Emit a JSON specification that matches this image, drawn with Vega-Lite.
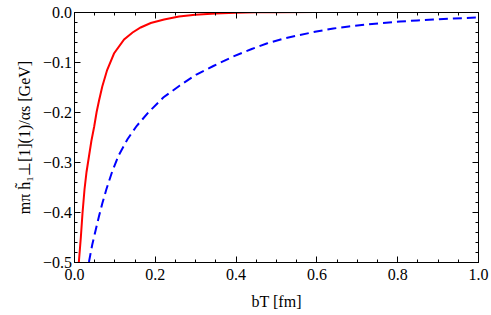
{
  "$schema": "https://vega.github.io/schema/vega-lite/v6.json",
  "autosize": "none",
  "width": 404,
  "height": 250,
  "padding": {"left": 74, "top": 12, "right": 13, "bottom": 53},
  "config": {
    "view": {"stroke": "black", "strokeWidth": 1},
    "font": "Liberation Serif"
  },
  "data": {"values": [
    {"b": 0.012, "v": -0.5, "s": "red"},
    {"b": 0.017, "v": -0.45, "s": "red"},
    {"b": 0.021, "v": -0.403, "s": "red"},
    {"b": 0.026, "v": -0.355, "s": "red"},
    {"b": 0.031, "v": -0.32, "s": "red"},
    {"b": 0.037, "v": -0.289, "s": "red"},
    {"b": 0.043, "v": -0.258, "s": "red"},
    {"b": 0.05, "v": -0.229, "s": "red"},
    {"b": 0.056, "v": -0.2, "s": "red"},
    {"b": 0.062, "v": -0.177, "s": "red"},
    {"b": 0.07, "v": -0.149, "s": "red"},
    {"b": 0.082, "v": -0.116, "s": "red"},
    {"b": 0.099, "v": -0.083, "s": "red"},
    {"b": 0.124, "v": -0.055, "s": "red"},
    {"b": 0.145, "v": -0.041, "s": "red"},
    {"b": 0.165, "v": -0.031, "s": "red"},
    {"b": 0.19, "v": -0.022, "s": "red"},
    {"b": 0.223, "v": -0.015, "s": "red"},
    {"b": 0.26, "v": -0.009, "s": "red"},
    {"b": 0.3, "v": -0.0055, "s": "red"},
    {"b": 0.35, "v": -0.003, "s": "red"},
    {"b": 0.4, "v": -0.0015, "s": "red"},
    {"b": 0.45, "v": -0.0007, "s": "red"},
    {"b": 0.5, "v": -0.0003, "s": "red"},
    {"b": 0.6, "v": -0.0001, "s": "red"},
    {"b": 0.7, "v": 0, "s": "red"},
    {"b": 0.8, "v": 0, "s": "red"},
    {"b": 0.9, "v": 0, "s": "red"},
    {"b": 1.0, "v": 0, "s": "red"},
    {"b": 0.037, "v": -0.5, "s": "blue"},
    {"b": 0.045, "v": -0.466, "s": "blue"},
    {"b": 0.054, "v": -0.435, "s": "blue"},
    {"b": 0.062, "v": -0.408, "s": "blue"},
    {"b": 0.07, "v": -0.383, "s": "blue"},
    {"b": 0.08, "v": -0.355, "s": "blue"},
    {"b": 0.095, "v": -0.318, "s": "blue"},
    {"b": 0.111, "v": -0.286, "s": "blue"},
    {"b": 0.132, "v": -0.255, "s": "blue"},
    {"b": 0.155, "v": -0.228, "s": "blue"},
    {"b": 0.184, "v": -0.201, "s": "blue"},
    {"b": 0.221, "v": -0.171, "s": "blue"},
    {"b": 0.262, "v": -0.147, "s": "blue"},
    {"b": 0.303, "v": -0.125, "s": "blue"},
    {"b": 0.345, "v": -0.108, "s": "blue"},
    {"b": 0.394, "v": -0.089, "s": "blue"},
    {"b": 0.44, "v": -0.074, "s": "blue"},
    {"b": 0.477, "v": -0.063, "s": "blue"},
    {"b": 0.52, "v": -0.053, "s": "blue"},
    {"b": 0.559, "v": -0.046, "s": "blue"},
    {"b": 0.6, "v": -0.039, "s": "blue"},
    {"b": 0.642, "v": -0.033, "s": "blue"},
    {"b": 0.68, "v": -0.029, "s": "blue"},
    {"b": 0.724, "v": -0.025, "s": "blue"},
    {"b": 0.765, "v": -0.022, "s": "blue"},
    {"b": 0.807, "v": -0.019, "s": "blue"},
    {"b": 0.85, "v": -0.017, "s": "blue"},
    {"b": 0.889, "v": -0.015, "s": "blue"},
    {"b": 0.94, "v": -0.013, "s": "blue"},
    {"b": 1.0, "v": -0.011, "s": "blue"}
  ]},
  "layer": [
    {
      "transform": [{"filter": "datum.s == 'red'"}],
      "mark": {"type": "line", "color": "#ff0000", "strokeWidth": 2, "clip": true},
      "encoding": {
        "x": {"field": "b", "type": "quantitative", "scale": {"domain": [0, 1], "nice": false, "zero": false},
          "axis": {"orient": "bottom", "title": "bT [fm]", "titlePadding": 8, "titleFont": "Liberation Serif", "titleFontSize": 16, "titleFontWeight": "normal", "titleColor": "black",
            "labelFont": "Liberation Serif", "labelFontSize": 16, "labelColor": "black", "labelFlush": false, "labelOverlap": false,
            "domainColor": "black", "domainWidth": 1, "gridOpacity": 0, "zindex": 1, "tickColor": "black", "tickWidth": 1,
            "values": [0,0.05,0.1,0.15,0.2,0.25,0.3,0.35,0.4,0.45,0.5,0.55,0.6,0.65,0.7,0.75,0.8,0.85,0.9,0.95,1.0],
            "format": ".1f",
            "labelExpr": "abs(datum.value*5 - round(datum.value*5)) < 0.001 ? datum.label : ''",
            "tickSize": {"condition": {"test": "abs(datum.value*5 - round(datum.value*5)) < 0.001", "value": -6}, "value": -3},
            "labelPadding": 10}},
        "y": {"field": "v", "type": "quantitative", "scale": {"domain": [-0.5, 0], "nice": false, "zero": false},
          "axis": {"orient": "left", "title": "mπ h̃₁⊥[1](1)/αs [GeV]", "titlePadding": 10, "titleFont": "Liberation Serif", "titleFontSize": 16, "titleFontWeight": "normal", "titleColor": "black",
            "labelFont": "Liberation Serif", "labelFontSize": 16, "labelColor": "black", "labelFlush": false, "labelOverlap": false,
            "domainColor": "black", "domainWidth": 1, "gridOpacity": 0, "zindex": 1, "tickColor": "black", "tickWidth": 1,
            "values": [-0.5,-0.48,-0.46,-0.44,-0.42,-0.4,-0.38,-0.36,-0.34,-0.32,-0.3,-0.28,-0.26,-0.24,-0.22,-0.2,-0.18,-0.16,-0.14,-0.12,-0.1,-0.08,-0.06,-0.04,-0.02,0],
            "format": ".1f",
            "labelExpr": "abs(datum.value*10 - round(datum.value*10)) < 0.001 ? datum.label : ''",
            "tickSize": {"condition": {"test": "abs(datum.value*10 - round(datum.value*10)) < 0.001", "value": -6}, "value": -3},
            "labelPadding": 8.5}}
      }
    },
    {
      "transform": [{"filter": "datum.s == 'blue'"}],
      "mark": {"type": "line", "color": "#0000ff", "strokeWidth": 2, "strokeDash": [9, 5], "clip": true},
      "encoding": {
        "x": {"field": "b", "type": "quantitative",
          "axis": {"orient": "top", "title": null, "labels": false,
            "domainColor": "black", "domainWidth": 1, "gridOpacity": 0, "zindex": 1, "tickColor": "black", "tickWidth": 1,
            "values": [0,0.05,0.1,0.15,0.2,0.25,0.3,0.35,0.4,0.45,0.5,0.55,0.6,0.65,0.7,0.75,0.8,0.85,0.9,0.95,1.0],
            "tickSize": {"condition": {"test": "abs(datum.value*5 - round(datum.value*5)) < 0.001", "value": -6}, "value": -3}}},
        "y": {"field": "v", "type": "quantitative",
          "axis": {"orient": "right", "title": null, "labels": false,
            "domainColor": "black", "domainWidth": 1, "gridOpacity": 0, "zindex": 1, "tickColor": "black", "tickWidth": 1,
            "values": [-0.5,-0.48,-0.46,-0.44,-0.42,-0.4,-0.38,-0.36,-0.34,-0.32,-0.3,-0.28,-0.26,-0.24,-0.22,-0.2,-0.18,-0.16,-0.14,-0.12,-0.1,-0.08,-0.06,-0.04,-0.02,0],
            "tickSize": {"condition": {"test": "abs(datum.value*10 - round(datum.value*10)) < 0.001", "value": -6}, "value": -3}}}
      }
    }
  ],
  "resolve": {"axis": {"x": "independent", "y": "independent"}}
}
